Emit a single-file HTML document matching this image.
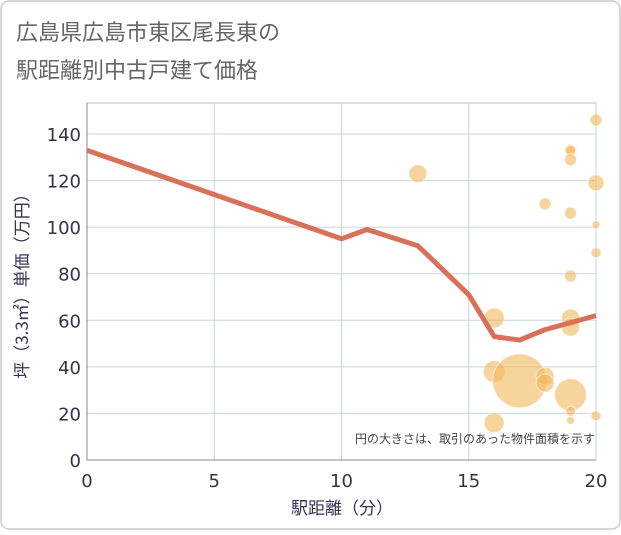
<!DOCTYPE html>
<html><head><meta charset="utf-8"><style>
body{margin:0;background:#fff;}
svg text{font-family:"DejaVu Sans","Noto Sans CJK JP",sans-serif;}
svg text.jp{font-family:"Noto Sans CJK JP",sans-serif;}
</style></head><body>
<svg id="c" width="621" height="530">
<rect x="1" y="1" width="619" height="528" rx="8" fill="#fff" stroke="#ccc" stroke-width="1.5"/>
<text class="jp" x="16" y="40" font-size="22" fill="#666">広島県広島市東区尾長東の</text>
<text class="jp" x="16" y="78" font-size="22" fill="#666">駅距離別中古戸建て価格</text>
<g id="grid"></g><g id="bubbles"></g><g id="line"></g><g id="axes"></g>
<text class="jp" x="595" y="443" font-size="12" fill="#444" text-anchor="end">円の大きさは、取引のあった物件面積を示す</text>
<text class="jp" x="342" y="514" font-size="17" fill="#335" text-anchor="middle">駅距離（分）</text>
<text class="jp" transform="translate(28,282) rotate(-90)" font-size="17" fill="#335" text-anchor="middle">坪（3.3㎡）単価（万円）</text>
</svg>
<script>
const xTicks=[0,5,10,15,20];
const yTicks=[0,20,40,60,80,100,120,140];
const lineX=[0,10,11,13,15,16,17,18,19,20];
const lineY=[133,95,99,92,71,53,51.5,56,59,62];
const bubX=[13,16,16,16,17,18,18,18,19,19,19,19,19,19,19,19,19,19,20,20,20,20,20];
const bubY=[123,61,38,16,34,36,33,110,133,133,129,106,79,61,57,28,21,17,146,119,101,89,19];
const bubR=[9,10,11,10,27,9,9,6,6,5,6,6,6,9,9,16,5,4,6,8,4,5,5];
const L=87,R=596,T=103,B=460;
const sx=v=>L+(R-L)*v/20, sy=v=>B-(B-134)*v/140;
const ns="http://www.w3.org/2000/svg";
function mk(p,t,a){const e=document.createElementNS(ns,t);for(const k in a)e.setAttribute(k,a[k]);document.getElementById(p).appendChild(e);return e;}
let e=mk('grid','rect',{x:L,y:T,width:R-L,height:B-T,fill:'none',stroke:'#bbb'});


yTicks.forEach(v=>{let g=mk('grid','line',{x1:L,x2:R,y1:sy(v),y2:sy(v),stroke:'#c8d4e4'});


let t=mk('axes','text',{x:L-6,y:sy(v)+7,'text-anchor':'end','font-size':18,fill:'#334'});t.textContent=v;

});
xTicks.forEach(v=>{let g=mk('grid','line',{x1:sx(v),x2:sx(v),y1:T,y2:B,stroke:'#c8d4e4'});


let t=mk('axes','text',{x:sx(v),y:B+27,'text-anchor':'middle','font-size':18,fill:'#334'});t.textContent=v;

});
let ax=mk('axes','path',{d:`M${L},${T}V${B}H${R}`,fill:'none',stroke:'#889'});


bubX.forEach((v,i)=>{let c=mk('bubbles','circle',{cx:sx(v),cy:sy(bubY[i]),r:bubR[i],fill:'rgba(242,184,90,0.6)',stroke:'rgba(255,255,255,0.6)'});

});
let l=mk('line','polyline',{points:lineX.map((v,i)=>sx(v)+','+sy(lineY[i])).join(' '),fill:'none',stroke:'#d9705a',"stroke-width":5,"stroke-linejoin":"round"});


</script>
</body></html>
